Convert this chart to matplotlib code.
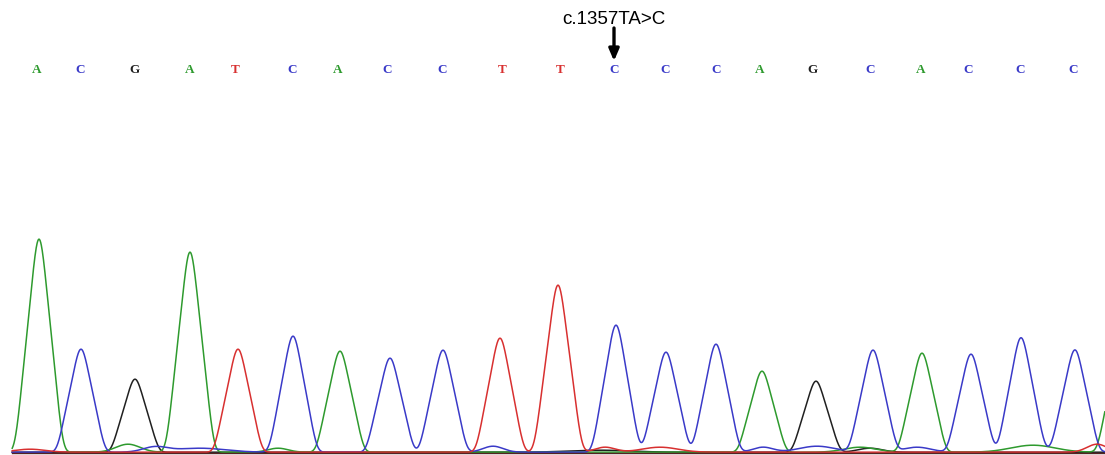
import numpy as np
import matplotlib
matplotlib.use("Agg")
import matplotlib.pyplot as plt

# Base calls (letter, scan position) and main peaks per channel
bases = list("ACGATCACCTTCCCAGCACCC")
base_pos = [37, 80, 134, 190, 235, 292, 338, 387, 442, 502, 560, 614, 665, 716, 760, 812, 870, 921, 968, 1020, 1073]
peak_pos = [39, 81, 135, 190, 238, 293, 340, 390, 443, 500, 558, 616, 666, 716, 762, 816, 873, 922, 971, 1021, 1075]
peak_height = [213, 103, 73, 200, 103, 116, 101, 94, 102, 114, 167, 127, 100, 108, 81, 71, 102, 99, 98, 114, 100]

# Minor background bumps per channel: (position, height, width)
minor_A = [(128, 8, 12), (278, 4, 10), (860, 5, 16), (1033, 7, 22)]
minor_C = [(155, 5, 12), (200, 4, 25), (493, 6, 10), (763, 5, 10), (817, 6, 18), (917, 5, 14), (1060, 3, 20)]
minor_G = [(870, 4, 12), (600, 2, 30)]
minor_T = [(30, 3, 15), (605, 5, 10), (660, 5, 18), (1097, 8, 10)]
# partly visible peaks beyond the right edge: (channel, position, height)
edge_peaks = [("A", 1121, 110)]

channel_color = {"A": "#2e9a2e", "C": "#3a3ac8", "G": "#202020", "T": "#d83030"}
mutation_label = "c.1357TA>C"
mutation_index = 11

x = np.linspace(-40, 1160, 4000)
dx = x[1] - x[0]
fig = plt.figure(figsize=(11.05, 4.55), dpi=100)
ax = fig.add_axes([0, 0, 1, 1])
ax.set_xlim(0, 1105)
ax.set_ylim(-2, 453)
ax.axis("off")

half_base = 24.0
ks = 3.4 / dx
kx = np.arange(-int(4 * ks), int(4 * ks) + 1)
kernel = np.exp(-0.5 * (kx / ks) ** 2)
kernel /= kernel.sum()
unit = np.convolve(np.clip(1 - np.abs(x - 500) / half_base, 0, None), kernel, mode="same")
norm = unit.max()

minors = {"A": minor_A, "C": minor_C, "G": minor_G, "T": minor_T}
visible = (x >= 12) & (x <= 1105)
for ch in "GACT":
    tri = np.zeros_like(x)
    peaks = [(p, h) for b, p, h in zip(bases, peak_pos, peak_height) if b == ch]
    peaks += [(p, h) for c, p, h in edge_peaks if c == ch]
    for p, h in peaks:
        tri += h / norm * np.clip(1 - np.abs(x - p) / half_base, 0, None)
    y = np.convolve(tri, kernel, mode="same") + 0.8
    for p, h, w in minors[ch]:
        y += h * np.exp(-0.5 * ((x - p) / w) ** 2)
    ax.plot(x[visible], y[visible], color=channel_color[ch], lw=1.1)

ax.plot([12, 1105], [0, 0], color="#552222", lw=1.0)

for b, p in zip(bases, base_pos):
    ax.text(p, 383, b, color=channel_color[b], ha="center", va="center",
            family="Liberation Serif", fontsize=9.5, fontweight="bold")

mx = base_pos[mutation_index]
ax.annotate("", xy=(mx, 392), xytext=(mx, 425),
            arrowprops=dict(arrowstyle="-|>,head_width=0.3,head_length=0.7", color="black",
                            lw=2.4, shrinkA=0, shrinkB=0))
ax.text(mx, 433, mutation_label, ha="center", va="center", family="Liberation Sans", fontsize=13.5)

fig.savefig("out.png", dpi=100)
